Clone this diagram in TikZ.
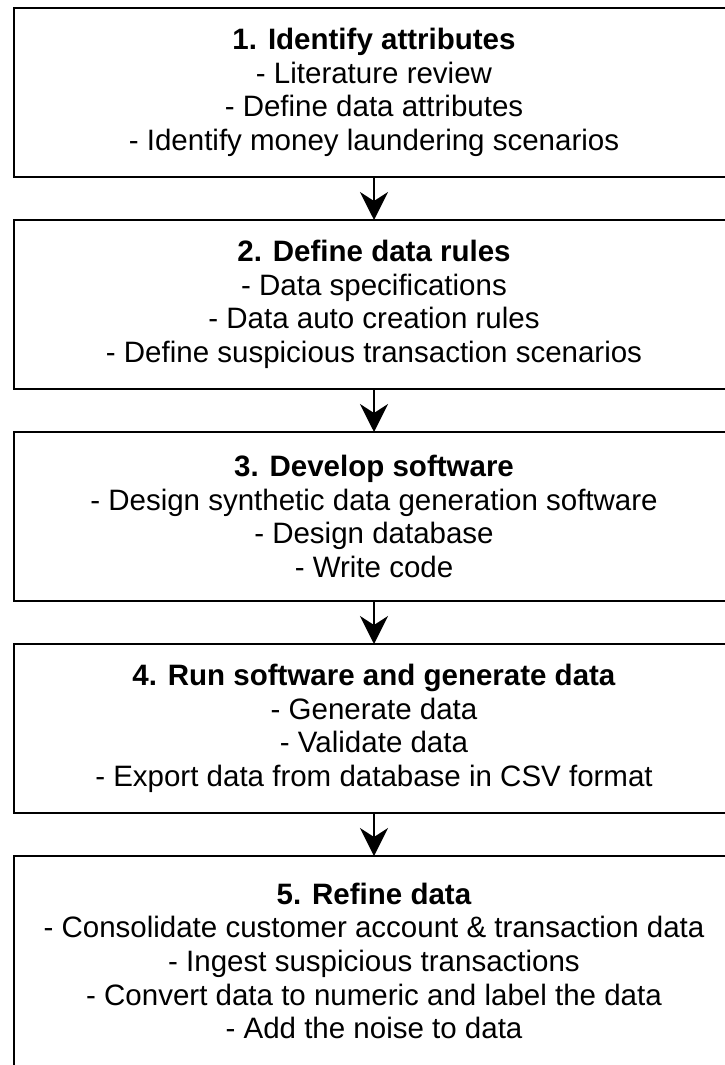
\documentclass[tikz,border=0pt]{standalone}
\usepackage{fontspec}
\setmainfont{Liberation Sans}
\usetikzlibrary{arrows.meta, positioning}

\begin{document}
\begin{tikzpicture}[x=1pt, y=-1pt, >={Stealth[length=28pt, width=28pt, inset=9pt]},
    node distance=43pt,
    every node/.style={font=\fontsize{29.5}{33.6}\selectfont},
    stage/.style={rectangle, draw=black, line width=2.5pt, outer sep=0pt, minimum width=720pt, minimum height=169pt, align=center},
    flow/.style={->, line width=1.8pt},
]
\useasboundingbox (0,0) rectangle (725,1065);

% Nodes
\node[stage] (identify) at (374,92.5) {\textbf{1. Identify attributes}\\- Literature review\\- Define data attributes\\- Identify money laundering scenarios};
\node[stage, below=of identify] (rules) {\textbf{2. Define data rules}\\- Data specifications\\- Data auto creation rules\\- Define suspicious transaction scenarios};
\node[stage, below=of rules] (develop) {\textbf{3. Develop software}\\- Design synthetic data generation software\\- Design database\\- Write code};
\node[stage, below=of develop] (generate) {\textbf{4. Run software and generate data}\\- Generate data\\- Validate data\\- Export data from database in CSV format};
\node[stage, below=of generate, minimum height=210pt] (refine) {\textbf{5. Refine data}\\- Consolidate customer account \& transaction data\\- Ingest suspicious transactions\\- Convert data to numeric and label the data\\- Add the noise to data};

% Edges
\draw[flow] (identify) -- (rules);
\draw[flow] (rules) -- (develop);
\draw[flow] (develop) -- (generate);
\draw[flow] (generate) -- (refine);

\end{tikzpicture}
\end{document}
